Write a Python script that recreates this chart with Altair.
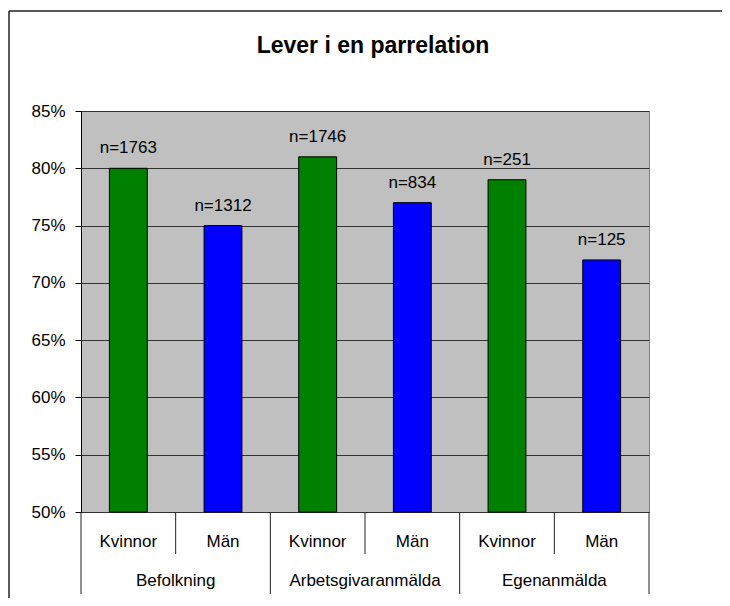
import altair as alt
import pandas as pd

# ---- data ----
groups = ["Befolkning", "Arbetsgivaranmälda", "Egenanmälda"]
sexes = ["Kvinnor", "Män"]
values = [0.80, 0.75, 0.81, 0.77, 0.79, 0.72]
counts = [1763, 1312, 1746, 834, 251, 125]
y_ticks = [0.50, 0.55, 0.60, 0.65, 0.70, 0.75, 0.80, 0.85]
title_text = "Lever i en parrelation"

W, H = 568, 401
FONT = "Liberation Sans"

rows = []
i = 0
for g in groups:
    for s in sexes:
        rows.append({"pos": i, "group": g, "sex": s, "value": values[i],
                     "label": f"n={counts[i]}"})
        i += 1
df = pd.DataFrame(rows)

gdf = pd.DataFrame({"group": groups, "gpos": [2 * k for k in range(len(groups))]})
bdf = pd.DataFrame({"b": [2 * k for k in range(len(groups) + 1)]})

xscale = alt.Scale(domain=[0, len(values)], nice=False, zero=False)
yscale = alt.Scale(domain=[0.5, 0.85], nice=False, zero=False)

base = alt.Chart(df)

bars = base.transform_calculate(
    x0="datum.pos + 0.3", x1="datum.pos + 0.7"
).mark_bar(stroke="black", strokeWidth=1).encode(
    x=alt.X("x0:Q", scale=xscale, axis=None),
    x2="x1:Q",
    y=alt.Y("value:Q", scale=yscale,
            axis=alt.Axis(format=".0%", values=y_ticks, title=None,
                          grid=True, gridColor="#333333", gridOpacity=1,
                          domainColor="black", tickColor="black",
                          tickSize=6, labelPadding=10,
                          labelFontSize=17, labelFont=FONT,
                          labelColor="black")),
    y2=alt.datum(0.5),
    color=alt.Color("sex:N", scale=alt.Scale(domain=sexes,
                    range=["#008000", "#0000FF"]), legend=None),
)

nlabels = base.transform_calculate(xc="datum.pos + 0.5").mark_text(
    baseline="alphabetic", dy=-15, fontSize=17, font=FONT, color="black"
).encode(
    x=alt.X("xc:Q", scale=xscale),
    y=alt.Y("value:Q", scale=yscale),
    text="label:N",
)

sublabels = base.transform_calculate(xc="datum.pos + 0.5").mark_text(
    baseline="alphabetic", fontSize=17, font=FONT, color="black"
).encode(
    x=alt.X("xc:Q", scale=xscale),
    y=alt.value(H + 35),
    text="sex:N",
)

glabels = alt.Chart(gdf).transform_calculate(xc="datum.gpos + 1").mark_text(
    baseline="alphabetic", fontSize=17, font=FONT, color="black"
).encode(
    x=alt.X("xc:Q", scale=xscale),
    y=alt.value(H + 74),
    text="group:N",
)

inner_sep = alt.Chart(gdf).transform_calculate(xc="datum.gpos + 1").mark_rule(
    color="#222222", strokeWidth=1
).encode(
    x=alt.X("xc:Q", scale=xscale),
    y=alt.value(H),
    y2=alt.value(H + 42),
)

outer_sep = alt.Chart(bdf).mark_rule(color="#222222", strokeWidth=1).encode(
    x=alt.X("b:Q", scale=xscale),
    y=alt.value(H),
    y2=alt.value(H + 82),
)

one = pd.DataFrame({"t": [title_text]})
title = alt.Chart(one).mark_text(
    fontSize=23, fontWeight="bold", font=FONT, color="black",
    baseline="alphabetic", align="center"
).encode(
    x=alt.value(292),
    y=alt.value(-58),
    text="t:N",
)

frame_top = alt.Chart(one).mark_rule(color="#222222", strokeWidth=1.5).encode(
    x=alt.value(-72), x2=alt.value(W + 73), y=alt.value(-100),
)
frame_left = alt.Chart(one).mark_rule(color="#222222", strokeWidth=1.5).encode(
    x=alt.value(-72), y=alt.value(-100), y2=alt.value(H + 86),
)

chart = alt.layer(
    bars, nlabels, sublabels, glabels, inner_sep, outer_sep, title,
    frame_top, frame_left
).properties(
    width=W, height=H,
    autosize=alt.AutoSizeParams(type="none"),
    padding={"left": 73, "top": 103, "right": 73, "bottom": 86},
    background="white",
).configure_view(
    fill="#C0C0C0", stroke="#808080", strokeWidth=1
)

chart.save("out.html", embed_options={"renderer": "svg", "actions": False})
